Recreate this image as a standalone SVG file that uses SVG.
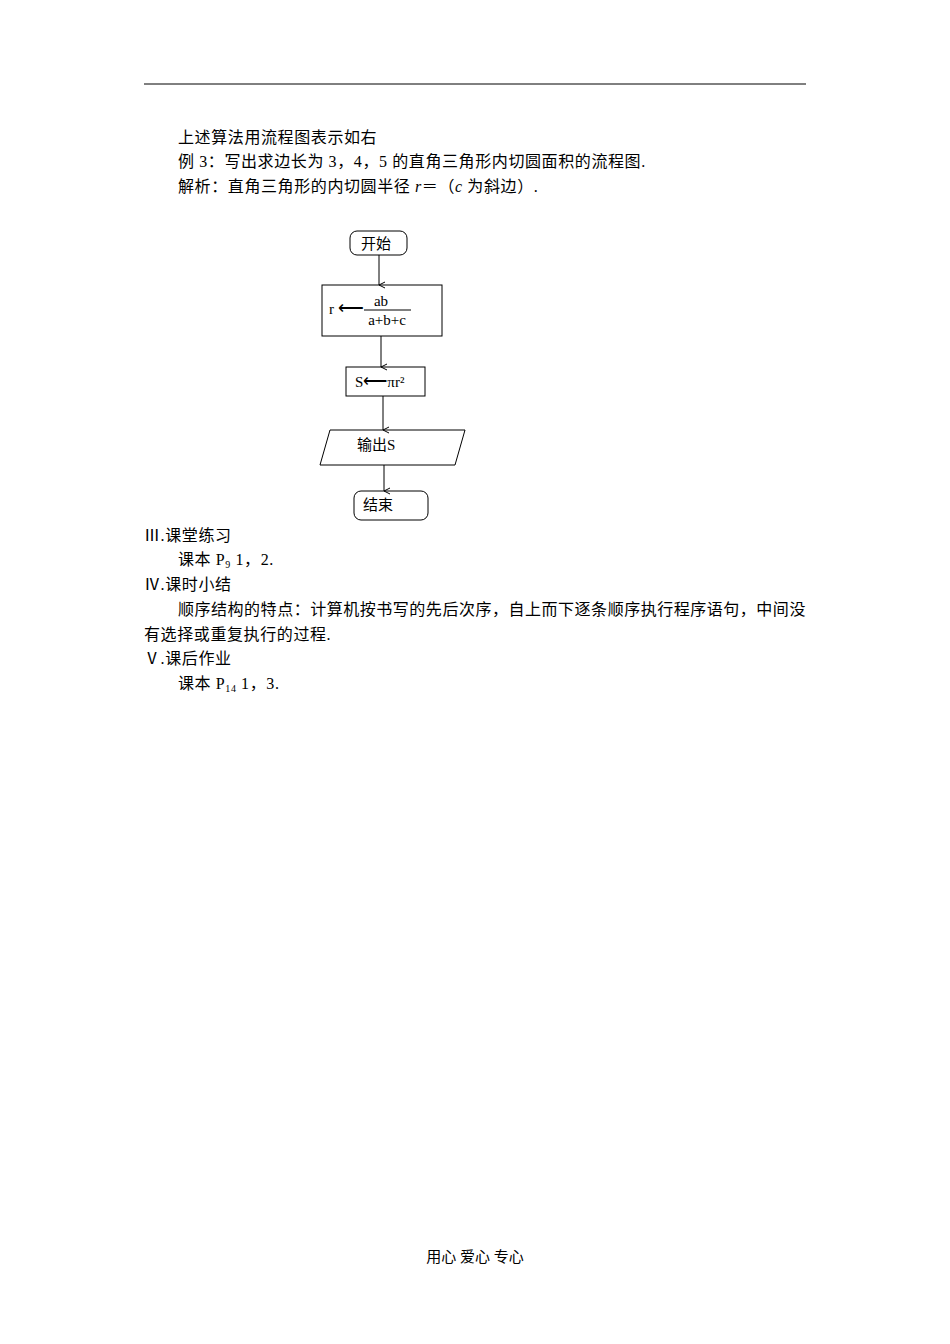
<svg xmlns="http://www.w3.org/2000/svg" width="950" height="1344" viewBox="0 0 950 1344">
<style>
.t{font-family:"Liberation Serif","Noto Sans CJK SC",serif;font-size:16px;letter-spacing:0.6px;fill:#000}
.f{font-family:"Liberation Serif","Noto Sans CJK SC",serif;font-size:15px;fill:#000}
.s{fill:#fff;stroke:#000;stroke-width:1}
.c{stroke:#000;stroke-width:1;fill:none}
</style>
<defs><marker id="a" markerWidth="8" markerHeight="8" refX="4" refY="7" orient="auto" markerUnits="userSpaceOnUse"><path d="M1,1 L4,7 L7,1" fill="none" stroke="#000"/></marker></defs>
<rect width="950" height="1344" fill="#fff"/>
<line x1="144" y1="84" x2="806" y2="84" stroke="#000"/>
<text class="t" x="178" y="143">上述算法用流程图表示如右</text>
<text class="t" x="178" y="167">例 3：写出求边长为 3，4，5 的直角三角形内切圆面积的流程图.</text>
<text class="t" x="178" y="192">解析：直角三角形的内切圆半径 <tspan font-style="italic">r</tspan>＝（<tspan font-style="italic">c</tspan> 为斜边）.</text>
<g id="start"><rect class="s" x="350" y="231" width="57" height="24" rx="7"/><text class="f" x="361" y="249">开始</text></g>
<g id="calc-r"><rect class="s" x="322" y="285" width="120" height="51"/><text class="f" x="329" y="314">r <tspan font-size="18">⟵</tspan></text><text class="f" x="381" y="306" text-anchor="middle">ab</text><line x1="364" y1="310" x2="411" y2="310" stroke="#000"/><text class="f" x="387" y="325" text-anchor="middle">a+b+c</text></g>
<g id="calc-s"><rect class="s" x="346" y="367" width="79" height="29"/><text class="f" x="355" y="387">S<tspan font-size="17">⟵</tspan>πr²</text></g>
<g id="output"><polygon class="s" points="330,430 465,430 455,465 320,465"/><text class="f" x="357" y="450">输出S</text></g>
<g id="end"><rect class="s" x="354" y="491" width="74" height="29" rx="7"/><text class="f" x="363" y="510">结束</text></g>
<g id="connectors">
<line class="c" x1="379" y1="255" x2="379" y2="285" marker-end="url(#a)"/>
<line class="c" x1="381" y1="336" x2="381" y2="367" marker-end="url(#a)"/>
<line class="c" x1="383" y1="396" x2="383" y2="430" marker-end="url(#a)"/>
<line class="c" x1="384" y1="465" x2="384" y2="491" marker-end="url(#a)"/>
</g>
<text class="t" x="144" y="541">Ⅲ.课堂练习</text>
<text class="t" x="178" y="565">课本 P<tspan font-size="10" dy="3">9</tspan><tspan dy="-3"> 1，2.</tspan></text>
<text class="t" x="144" y="590">Ⅳ.课时小结</text>
<text class="t" x="178" y="615" textLength="628" lengthAdjust="spacing">顺序结构的特点：计算机按书写的先后次序，自上而下逐条顺序执行程序语句，中间没</text>
<text class="t" x="144" y="640">有选择或重复执行的过程.</text>
<text class="t" x="144" y="664">Ⅴ.课后作业</text>
<text class="t" x="178" y="689">课本 P<tspan font-size="10" dy="3">14</tspan><tspan dy="-3"> 1，3.</tspan></text>
<text class="f" x="475" y="1262" text-anchor="middle" font-size="13">用心 爱心 专心</text>
</svg>
